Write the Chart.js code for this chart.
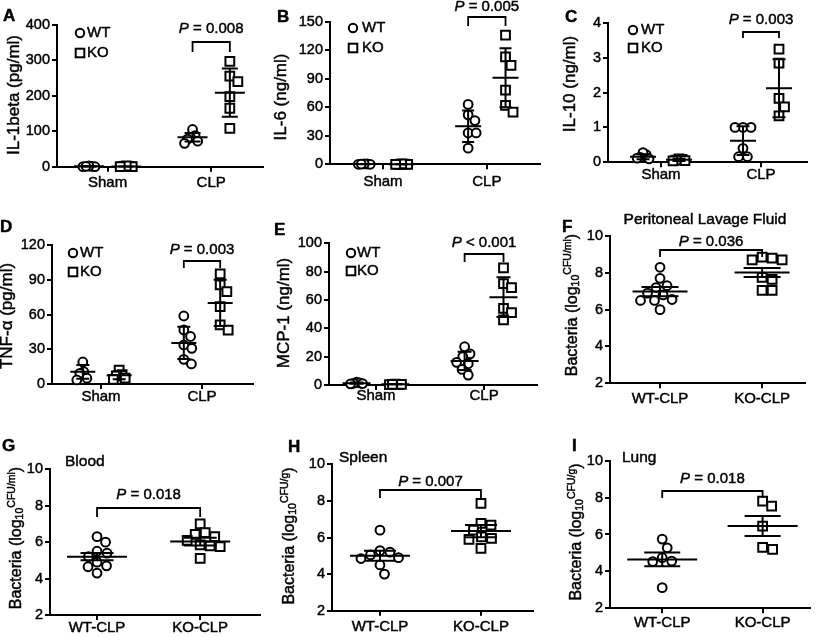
<!DOCTYPE html>
<html>
<head>
<meta charset="utf-8">
<title>Cytokines and bacterial load, WT vs KO</title>
<script src="https://cdn.jsdelivr.net/npm/chart.js@4.4.1/dist/chart.umd.min.js"></script>
<style>
  html, body { margin: 0; padding: 0; background: #fff; }
  #fig { position: relative; width: 818px; height: 637px; overflow: hidden; background: #fff; }
  #fig canvas { position: absolute; }
</style>
</head>
<body>
<div id="fig"></div>
<script>
(function () {
  "use strict";

  // ---- values ----
  var cytoGroups = ["Sham", "CLP"];
  var bactGroups = ["WT-CLP", "KO-CLP"];
  var pLabels = ["P = 0.008", "P = 0.005", "P = 0.003", "P = 0.003", "P < 0.001",
                 "P = 0.036", "P = 0.018", "P = 0.007", "P = 0.018"];

  // A  IL-1beta (pg/ml)
  var il1bTicks = [0, 100, 200, 300, 400];
  var il1bWtSham = [1, 0, 2, 0, 1];
  var il1bKoSham = [0, 1, 0, 2, 0];
  var il1bWtClp = [105, 88, 82, 78, 72, 66];
  var il1bKoClp = [297, 256, 240, 198, 165, 108];
  var il1bMean = [1, 0.6, 83, 209];
  var il1bSd = [1, 0.9, 12, 68];

  // B  IL-6 (ng/ml)
  var il6Ticks = [0, 30, 60, 90, 120, 150];
  var il6WtSham = [0.3, 0, 0.5, 0, 0.2];
  var il6KoSham = [0, 0.2, 0, 0.4, 0];
  var il6WtClp = [63, 52, 46, 33, 33, 17];
  var il6KoClp = [136, 113, 104, 78, 62, 55];
  var il6Mean = [0.2, 0.1, 40, 91];
  var il6Sd = [0.2, 0.2, 16.5, 31];

  // C  IL-10 (ng/ml)
  var il10Ticks = [0, 1, 2, 3, 4];
  var il10WtSham = [0.22, 0.28, 0.14, 0.12, 0.1];
  var il10KoSham = [0.08, 0.1, 0.05, 0.06, 0.04];
  var il10WtClp = [1.0, 1.0, 1.0, 0.4, 0.16, 0.16];
  var il10KoClp = [3.24, 2.84, 1.83, 1.59, 1.33];
  var il10Mean = [0.16, 0.07, 0.62, 2.12];
  var il10Sd = [0.07, 0.03, 0.41, 0.83];

  // D  TNF-alpha (pg/ml)
  var tnfTicks = [0, 30, 60, 90, 120];
  var tnfWtSham = [19, 10.6, 9.2, 5, 3.5];
  var tnfKoSham = [12, 8, 7, 5, 4];
  var tnfWtClp = [58.7, 46.6, 41, 33.7, 30.8, 21.3, 17.3];
  var tnfKoClp = [95, 85.5, 79.7, 66.8, 51, 46.6];
  var tnfMean = [10.5, 7.5, 35.5, 70];
  var tnfSd = [6, 3.5, 14, 20];

  // E  MCP-1 (ng/ml)
  var mcpTicks = [0, 20, 40, 60, 80, 100];
  var mcpWtSham = [2, 1.5, 1, 1.2, 0.8];
  var mcpKoSham = [0.5, 0.3, 0.6, 0.4, 0.5];
  var mcpWtClp = [27, 22, 20, 16, 15, 11, 7];
  var mcpKoClp = [82.6, 71.6, 68.8, 54, 51, 46];
  var mcpMean = [1.3, 0.5, 17, 62];
  var mcpSd = [0.5, 0.2, 6.5, 14];

  // F-I  Bacteria (log10 CFU)
  var bactTicks = [2, 4, 6, 8, 10];
  var plfWt = [8.3, 7.7, 7.3, 7.2, 6.9, 6.8, 6.55, 6.5, 6.5, 6.0];
  var plfKo = [8.85, 8.8, 8.7, 8.7, 7.75, 7.65, 7.05, 7.05];
  var plfMean = [6.98, 8.02];
  var plfSem = [0.25, 0.24];

  var bloodWt = [6.3, 6.0, 5.5, 5.4, 5.2, 4.9, 4.7, 4.65, 4.3];
  var bloodKo = [7.0, 6.52, 6.43, 6.3, 6.1, 5.85, 5.8, 5.75, 5.11];
  var bloodMean = [5.2, 6.03];
  var bloodSem = [0.2, 0.21];

  var spleenWt = [6.4, 5.28, 5.2, 5.05, 4.9, 4.85, 4.5, 4.0];
  var spleenKo = [7.87, 6.77, 6.68, 6.4, 6.04, 5.95, 5.9, 5.4];
  var spleenMean = [5.0, 6.35];
  var spleenSem = [0.27, 0.33];

  var lungWt = [5.75, 5.28, 4.74, 4.56, 4.53, 3.12];
  var lungKo = [7.81, 7.54, 6.46, 5.3, 5.2];
  var lungMean = [4.65, 6.46];
  var lungSem = [0.37, 0.54];

  // ---- layout ----
  var FONT = "'Liberation Sans', Arial, Helvetica, sans-serif";
  var G = 0.18;      // WT / KO half gap inside a cytokine group (x units)
  var MIN_D = 10;    // marker spacing used for spreading points (px)
  var YW = 40, XH = 30;
  var INK = 0.45;    // faint outline so text reads as heavy as the scanned figure

  function cytoSets(wtS, koS, wtC, koC, mean, sd) {
    return [
      { x: 1 - G, vals: wtS, shape: "circle", spread: 6, mean: mean[0], err: sd[0] },
      { x: 1 + G, vals: koS, shape: "rect", spread: 6, mean: mean[1], err: sd[1] },
      { x: 2 - G, vals: wtC, shape: "circle", spread: 8, mean: mean[2], err: sd[2] },
      { x: 2 + G, vals: koC, shape: "rect", spread: 8, mean: mean[3], err: sd[3] }
    ];
  }
  function bactSets(wt, ko, mean, sem) {
    return [
      { x: 1, vals: wt, shape: "circle", spread: 24, mean: mean[0], err: sem[0] },
      { x: 2, vals: ko, shape: "rect", spread: 24, mean: mean[1], err: sem[1] }
    ];
  }

  var panels = [
    { letter: "A", lpos: [3, 16], box: [0, 0, 272, 200], plot: [57, 25, 263, 166.7], xr: [0.512, 2.5],
      ticks: il1bTicks, cats: cytoGroups, xpad: 2, sets: cytoSets(il1bWtSham, il1bKoSham, il1bWtClp, il1bKoClp, il1bMean, il1bSd),
      title: "IL-1beta (pg/ml)", tpos: [14, 95], legend: [80, 33, 53, 87],
      p: pLabels[0], pb: [29, 42, 52], between: [2, 3], mw: 30, cw: 16 },
    { letter: "B", lpos: [277, 17], box: [268, 0, 280, 200], plot: [330, 21.7, 540, 164.3], xr: [0.49, 2.51],
      ticks: il6Ticks, cats: cytoGroups, xpad: 4, sets: cytoSets(il6WtSham, il6KoSham, il6WtClp, il6KoClp, il6Mean, il6Sd),
      title: "IL-6 (ng/ml)", tpos: [281, 97], legend: [353, 28, 48, 362],
      p: pLabels[1], pb: [7, 17, 26], between: [2, 3], mw: 26, cw: 12 },
    { letter: "C", lpos: [565, 17.5], box: [540, 0, 278, 200], plot: [608, 22.7, 807, 162.3], xr: [0.47, 2.46],
      ticks: il10Ticks, cats: cytoGroups, xpad: -1, sets: cytoSets(il10WtSham, il10KoSham, il10WtClp, il10KoClp, il10Mean, il10Sd),
      title: "IL-10 (ng/ml)", tpos: [570, 84], legend: [633, 30, 48, 641],
      p: pLabels[2], pb: [20, 32, 38], between: [2, 3], mw: 26, cw: 13 },
    { letter: "D", lpos: [0, 227], box: [0, 200, 272, 220], plot: [52, 245, 253, 384], xr: [0.515, 2.505],
      ticks: tnfTicks, cats: cytoGroups, xpad: -1, sets: cytoSets(tnfWtSham, tnfKoSham, tnfWtClp, tnfKoClp, tnfMean, tnfSd),
      title: "TNF-\u03b1 (pg/ml)", tpos: [7.5, 316], legend: [73, 253, 272, 80],
      p: pLabels[3], pb: [250, 261, 268], between: [2, 3], mw: 25, cw: 13 },
    { letter: "E", lpos: [274, 230], box: [268, 200, 280, 220], plot: [329, 243.3, 537, 385], xr: [0.565, 2.49],
      ticks: mcpTicks, cats: cytoGroups, xpad: -3, sets: cytoSets(mcpWtSham, mcpKoSham, mcpWtClp, mcpKoClp, mcpMean, mcpSd),
      title: "MCP-1 (ng/ml)", tpos: [284, 313], legend: [351, 253, 271, 357],
      p: pLabels[4], pb: [243, 254, 262], between: [2, 3], mw: 28, cw: 14 },
    { letter: "F", lpos: [562, 227], box: [540, 200, 278, 220], plot: [610, 236, 805, 383.3], xr: [0.51, 2.42],
      ticks: bactTicks, cats: bactGroups, xpad: 2, sets: bactSets(plfWt, plfKo, plfMean, plfSem),
      title: ["Bacteria (log", "10", "CFU/ml", ")"], tpos: [572.5, 305],
      top: ["Peritoneal Lavage Fluid", 705, 220, "center"],
      p: pLabels[5], pb: [242, 250, 257], between: [0, 1], mw: 55, cw: 37 },
    { letter: "G", lpos: [2, 446], box: [0, 420, 272, 230], plot: [50, 469.3, 260, 615], xr: [0.544, 2.58],
      ticks: bactTicks, cats: bactGroups, xpad: -1, sets: bactSets(bloodWt, bloodKo, bloodMean, bloodSem),
      title: ["Bacteria (log", "10", "CFU/ml", ")"], tpos: [17, 538],
      top: ["Blood", 65, 462, "left"],
      p: pLabels[6], pb: [495, 508, 517], between: [0, 1], mw: 60, cw: 33 },
    { letter: "H", lpos: [288, 447], box: [268, 420, 280, 230], plot: [332, 464.3, 533, 610.7], xr: [0.525, 2.515],
      ticks: bactTicks, cats: bactGroups, xpad: 2, sets: bactSets(spleenWt, spleenKo, spleenMean, spleenSem),
      title: ["Bacteria (log", "10", "CFU/g", ")"], tpos: [290, 536],
      top: ["Spleen", 339, 458, "left"],
      p: pLabels[7], pb: [482, 490, 498], between: [0, 1], mw: 60, cw: 32 },
    { letter: "I", lpos: [572, 446], box: [540, 420, 278, 230], plot: [610, 460.7, 813, 608.3], xr: [0.48, 2.47],
      ticks: bactTicks, cats: bactGroups, xpad: 1, sets: bactSets(lungWt, lungKo, lungMean, lungSem),
      title: ["Bacteria (log", "10", "CFU/g", ")"], tpos: [577, 532],
      top: ["Lung", 622, 458, "left"],
      p: pLabels[8], pb: [479, 491, 498], between: [0, 1], mw: 70, cw: 36 }
  ];

  function ink(ctx, text, x, y) {
    ctx.fillText(text, x, y);
    ctx.strokeText(text, x, y);
  }

  function pText(ctx, label, cx, cy) {
    var head = label.charAt(0), rest = label.slice(1);
    ctx.textAlign = "left";
    ctx.textBaseline = "middle";
    ctx.font = "italic 15px " + FONT;
    var w1 = ctx.measureText(head).width;
    ctx.font = "15px " + FONT;
    var w2 = ctx.measureText(rest).width;
    var x0 = cx - (w1 + w2) / 2;
    ctx.font = "italic 15px " + FONT;
    ink(ctx, head, x0, cy);
    ctx.font = "15px " + FONT;
    ink(ctx, rest, x0 + w1, cy);
  }

  function yTitle(ctx, t, x, y) {
    ctx.save();
    ctx.translate(x, y);
    ctx.rotate(-Math.PI / 2);
    ctx.textBaseline = "middle";
    if (typeof t === "string") {
      ctx.font = "17px " + FONT;
      ctx.textAlign = "center";
      ink(ctx, t, 0, 0);
    } else {
      var big = "16px " + FONT, small = "10.5px " + FONT;
      var parts = [[t[0], big, 0], [t[1], small, 3.5], [t[2], small, -4.5], [t[3], big, 0]];
      var tot = 0;
      parts.forEach(function (p) { ctx.font = p[1]; p.push(ctx.measureText(p[0]).width); tot += p[3]; });
      var cx = -tot / 2;
      ctx.textAlign = "left";
      parts.forEach(function (p) { ctx.font = p[1]; ink(ctx, p[0], cx, p[2]); cx += p[3]; });
    }
    ctx.restore();
  }

  var decor = {
    id: "decor",
    afterDraw: function (chart) {
      var cfg = chart.options.plugins.decor.cfg;
      var ctx = chart.ctx, xs = chart.scales.x, ys = chart.scales.y;
      var ox = cfg.box[0], oy = cfg.box[1];
      ctx.save();
      ctx.strokeStyle = "#000";
      ctx.fillStyle = "#000";

      // mean and error bars
      ctx.lineWidth = 2;
      cfg.sets.forEach(function (g) {
        var cx = xs.getPixelForValue(g.x);
        var m = ys.getPixelForValue(g.mean);
        var hi = ys.getPixelForValue(g.mean + g.err);
        var lo = ys.getPixelForValue(g.mean - g.err);
        ctx.beginPath();
        ctx.moveTo(cx - cfg.mw / 2, m); ctx.lineTo(cx + cfg.mw / 2, m);
        ctx.moveTo(cx, hi); ctx.lineTo(cx, lo);
        ctx.moveTo(cx - cfg.cw / 2, hi); ctx.lineTo(cx + cfg.cw / 2, hi);
        ctx.moveTo(cx - cfg.cw / 2, lo); ctx.lineTo(cx + cfg.cw / 2, lo);
        ctx.stroke();
      });

      // significance bracket
      var x1 = xs.getPixelForValue(cfg.sets[cfg.between[0]].x);
      var x2 = xs.getPixelForValue(cfg.sets[cfg.between[1]].x);
      ctx.lineWidth = 1.8;
      ctx.beginPath();
      ctx.moveTo(x1, cfg.pb[2] - oy);
      ctx.lineTo(x1, cfg.pb[1] - oy);
      ctx.lineTo(x2, cfg.pb[1] - oy);
      ctx.lineTo(x2, cfg.pb[2] - oy);
      ctx.stroke();

      ctx.lineWidth = INK;
      pText(ctx, cfg.p, (x1 + x2) / 2, cfg.pb[0] - oy);

      // panel letter
      ctx.font = "bold 17px " + FONT;
      ctx.textAlign = "left";
      ctx.textBaseline = "middle";
      ink(ctx, cfg.letter, cfg.lpos[0] - ox, cfg.lpos[1] - oy);

      // axis title
      yTitle(ctx, cfg.title, cfg.tpos[0] - ox, cfg.tpos[1] - oy);

      // top title
      if (cfg.top) {
        ctx.font = "15.5px " + FONT;
        ctx.textAlign = cfg.top[3];
        ctx.textBaseline = "middle";
        ink(ctx, cfg.top[0], cfg.top[1] - ox, cfg.top[2] - oy);
      }

      // legend
      if (cfg.legend) {
        var L = cfg.legend;
        ctx.lineWidth = 2;
        ctx.fillStyle = "#fff";
        ctx.beginPath();
        ctx.arc(L[0] - ox, L[1] - oy, 4.2, 0, Math.PI * 2);
        ctx.fill(); ctx.stroke();
        ctx.fillRect(L[0] - ox - 4.3, L[2] - oy - 4.3, 8.6, 8.6);
        ctx.strokeRect(L[0] - ox - 4.3, L[2] - oy - 4.3, 8.6, 8.6);
        ctx.fillStyle = "#000";
        ctx.lineWidth = INK;
        ctx.font = "15px " + FONT;
        ctx.textAlign = "left";
        ctx.textBaseline = "middle";
        ink(ctx, "WT", L[3] - ox, L[1] - oy);
        ink(ctx, "KO", L[3] - ox, L[2] - oy);
      }
      ctx.restore();
    }
  };

  function swarm(yPx, spread) {
    var order = yPx.map(function (v, i) { return i; }).sort(function (a, b) { return yPx[a] - yPx[b]; });
    var placed = [];
    var offs = yPx.map(function () { return 0; });
    order.forEach(function (i) {
      var y = yPx[i], best = 0;
      for (var k = 0; k < 400; k++) {
        var cand = k === 0 ? 0 : (k % 2 ? 1 : -1) * Math.ceil(k / 2) * 0.5;
        var ok = placed.every(function (p) { return Math.hypot(p.x - cand, p.y - y) >= MIN_D; });
        if (ok) { best = cand; break; }
      }
      placed.push({ x: best, y: y });
      offs[i] = best;
    });
    var mx = Math.max.apply(null, offs.map(Math.abs));
    if (mx > spread) offs = offs.map(function (o) { return o * spread / mx; });
    return offs;
  }

  var fig = document.getElementById("fig");
  var charts = [];

  panels.forEach(function (cfg) {
    var box = cfg.box, plot = cfg.plot;
    var cv = document.createElement("canvas");
    cv.width = box[2];
    cv.height = box[3];
    cv.style.left = box[0] + "px";
    cv.style.top = box[1] + "px";
    cv.style.width = box[2] + "px";
    cv.style.height = box[3] + "px";
    fig.appendChild(cv);

    var axisLine = { display: true, color: "#000", width: 2 };
    var tickMarks = { display: true, drawOnChartArea: false, drawTicks: true, tickLength: 5, color: "#000", lineWidth: 2 };

    var chart = new Chart(cv, {
      type: "scatter",
      data: {
        datasets: cfg.sets.map(function (g) {
          return {
            data: g.vals.map(function (v) { return { x: g.x, y: v }; }),
            pointStyle: g.shape,
            pointRadius: g.shape === "rect" ? 6.2 : 4.4,
            pointHoverRadius: g.shape === "rect" ? 6.2 : 4.4,
            pointBorderWidth: 2,
            pointBorderColor: "#000",
            pointBackgroundColor: "#fff",
            clip: false
          };
        })
      },
      options: {
        responsive: false,
        animation: false,
        devicePixelRatio: 1,
        events: [],
        layout: {
          padding: {
            left: plot[0] - box[0] - YW,
            top: plot[1] - box[1],
            right: box[0] + box[2] - plot[2],
            bottom: box[1] + box[3] - plot[3] - XH
          }
        },
        plugins: { legend: { display: false }, tooltip: { enabled: false }, decor: { cfg: cfg } },
        scales: {
          x: {
            type: "linear",
            min: cfg.xr[0],
            max: cfg.xr[1],
            afterBuildTicks: function (s) { s.ticks = [{ value: 1 }, { value: 2 }]; },
            afterFit: function (s) { s.height = XH; },
            ticks: {
              color: "#000",
              font: { family: FONT, size: 15 },
              padding: cfg.xpad,
              maxRotation: 0,
              autoSkip: false,
              textStrokeColor: "#000",
              textStrokeWidth: INK,
              callback: function (v) { return cfg.cats[Math.round(v) - 1]; }
            },
            grid: tickMarks,
            border: axisLine
          },
          y: {
            type: "linear",
            min: cfg.ticks[0],
            max: cfg.ticks[cfg.ticks.length - 1],
            afterBuildTicks: function (s) { s.ticks = cfg.ticks.map(function (v) { return { value: v }; }); },
            afterFit: function (s) { s.width = YW; },
            ticks: {
              color: "#000",
              font: { family: FONT, size: 14.5 },
              padding: 2,
              autoSkip: false,
              textStrokeColor: "#000",
              textStrokeWidth: INK
            },
            grid: tickMarks,
            border: axisLine
          }
        }
      },
      plugins: [decor]
    });
    charts.push({ chart: chart, cfg: cfg });
  });

  // spread overlapping points sideways, like the original dot plots
  charts.forEach(function (c) {
    var xs = c.chart.scales.x, ys = c.chart.scales.y;
    var ppu = xs.getPixelForValue(2) - xs.getPixelForValue(1);
    c.cfg.sets.forEach(function (g, gi) {
      var yPx = g.vals.map(function (v) { return ys.getPixelForValue(v); });
      var offs = swarm(yPx, g.spread);
      c.chart.data.datasets[gi].data = g.vals.map(function (v, i) {
        return { x: g.x + offs[i] / ppu, y: v };
      });
    });
    c.chart.update("none");
  });
})();
</script>
</body>
</html>
